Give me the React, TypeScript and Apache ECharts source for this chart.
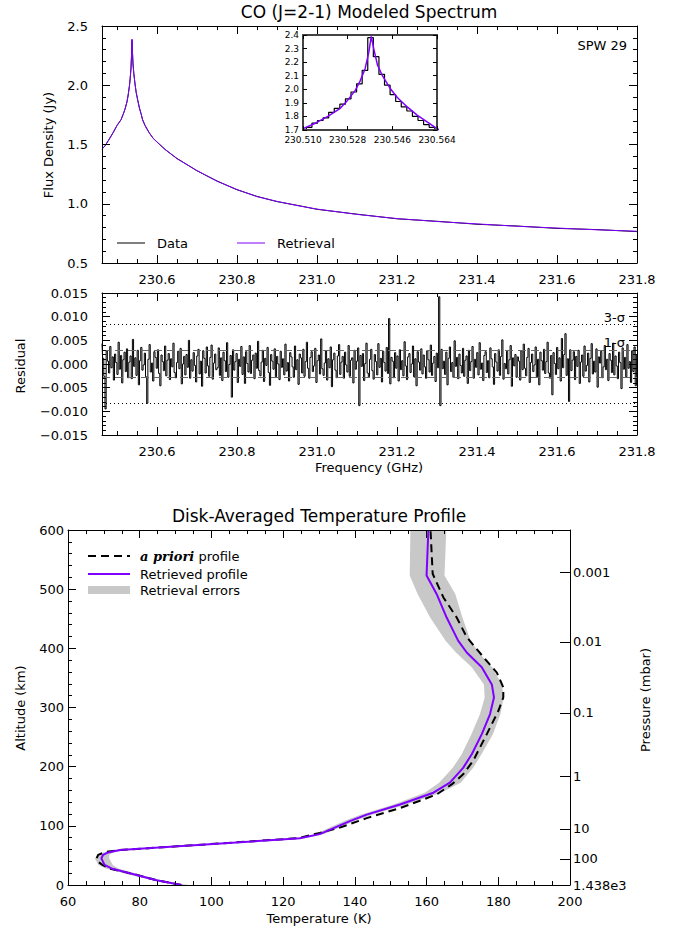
import React, { useEffect, useRef } from "react";
import * as echarts from "echarts";

const FONT = "DejaVu Sans";
const PURPLE = "#7f00ff";
const BAND_GRAY = "#c8c8c8";

// ---------- Spectrum (top panel) ----------
const spectrumFreqGHz = [
  230.4625, 230.47, 230.48, 230.49, 230.5, 230.51, 230.515, 230.52, 230.525, 230.528,
  230.531, 230.533, 230.535, 230.5365, 230.5375, 230.5385, 230.54, 230.542, 230.545, 230.548,
  230.552, 230.556, 230.56, 230.564, 230.57, 230.58, 230.59, 230.6, 230.62, 230.65,
  230.7, 230.75, 230.8, 230.85, 230.9, 230.95, 231.0, 231.1, 231.2, 231.3,
  231.4, 231.5, 231.6, 231.7, 231.8,
];
const modelFluxJy = [
  1.46, 1.49, 1.54, 1.6, 1.66, 1.71, 1.75, 1.8, 1.86, 1.92,
  1.99, 2.06, 2.15, 2.27, 2.39, 2.3, 2.18, 2.1, 2.01, 1.94,
  1.87, 1.81, 1.76, 1.71, 1.66, 1.6, 1.555, 1.52, 1.46, 1.38,
  1.28, 1.19, 1.12, 1.06, 1.02, 0.985, 0.955, 0.91, 0.875, 0.85,
  0.83, 0.81, 0.795, 0.78, 0.768,
];
const dataFluxJy = [
  1.462, 1.488, 1.543, 1.598, 1.661, 1.708, 1.752, 1.797, 1.862, 1.918,
  1.993, 2.058, 2.14, 2.27, 2.38, 2.29, 2.18, 2.1, 2.012, 1.938,
  1.872, 1.808, 1.762, 1.708, 1.662, 1.602, 1.553, 1.522, 1.458, 1.382,
  1.278, 1.192, 1.118, 1.062, 1.018, 0.987, 0.953, 0.912, 0.873, 0.852,
  0.827, 0.812, 0.792, 0.782, 0.765,
];
const spectrumTicksGHz = [230.6, 230.8, 231.0, 231.2, 231.4, 231.6, 231.8];
const spectrumMinorTicksGHz = [
  230.5, 230.55, 230.65, 230.7, 230.75, 230.85, 230.9, 230.95, 231.05, 231.1,
  231.15, 231.25, 231.3, 231.35, 231.45, 231.5, 231.55, 231.65, 231.7, 231.75,
];

// ---------- Inset (channel data near line centre) ----------
const insetChannelFreqGHz = [
  230.508, 230.5102, 230.5125, 230.5147, 230.517, 230.5192, 230.5215, 230.5237, 230.526, 230.5282,
  230.5305, 230.5327, 230.535, 230.5372, 230.5395, 230.5417, 230.544, 230.5462, 230.5485, 230.5507,
  230.553, 230.5552, 230.5575, 230.5597, 230.562, 230.5642, 230.5665,
];
const insetChannelFluxJy = [
  1.68, 1.7, 1.72, 1.75, 1.77, 1.79, 1.83, 1.86, 1.89, 1.93,
  1.98, 2.04, 2.14, 2.38, 2.24, 2.11, 2.03, 1.96, 1.91, 1.87,
  1.84, 1.8, 1.77, 1.74, 1.72, 1.69, 1.67,
];
const insetTicksGHz = [230.51, 230.528, 230.546, 230.564];

// ---------- Residuals (1e-3 Jy per channel) ----------
const residualStartGHz = 230.4625;
const residualChannelGHz = 0.0029788;
const residualMilliJy = [
  4.3, 1.2, -2.6, -9.5, 2.8, 0.6, -1.9, 3.7, -0.8, 1.5, -3.4, 2.1, 0.3, -2.2, 4.6, -1.1, 1.8, -4.0, 0.9, 2.5, -1.6, 3.2, -2.9, 0.4, 1.7,
  -3.1, 5.2, -0.5, 1.3, -2.4, 2.9, -4.4, 0.7, 3.5, -1.3, -0.2, 2.3, -2.7, -8.3, 1.0, 4.1, -1.7, 0.2, -3.6, 2.6, 1.4, -0.9, 3.0, -2.0, -4.6,
  1.9, 0.5, -1.4, 3.8, -2.5, 0.8, 2.2, -3.3, 1.1, -0.6, 4.4, -1.8, -2.9, 0.3, 2.7, -1.0, 3.3, -4.2, 0.0, 1.6, -2.3, 2.0, -0.7, 5.0, -3.0,
  0.9, -1.5, 2.4, -0.3, -3.8, 1.7, 3.1, -2.1, 0.6, -4.7, 2.8, 1.2, -1.9, 3.6, -0.4, -2.6, 1.4, 4.0, -3.2, 0.2, 2.1, -1.2, -0.8, 3.4, -2.4,
  1.3, -3.5, 2.5, 0.7, -1.6, 4.5, -2.8, -0.1, 1.8, -7.0, 3.0, -1.3, 0.5, 2.2, -3.9, 1.0, -0.5, 3.7, -2.2, 1.5, -4.1, 2.6, 0.1, -1.7, 3.9,
  -2.0, 0.8, 1.9, -3.1, 2.3, -0.9, 4.8, -1.4, -2.5, 0.4, 2.9, -3.7, 1.2, -0.3, 3.5, -1.8, -4.5, 2.0, 0.6, -1.1, 3.2, -2.7, 1.6, 0.0, -3.3,
  2.7, -0.7, 1.1, -2.3, 4.2, -1.5, 0.3, -3.6, 2.4, 1.5, -0.6, -2.8, 3.8, -1.2, 0.9, -4.3, 2.1, 1.3, -1.9, 3.1, -2.6, 0.5, 4.6, -0.9, -3.0,
  1.4, 2.6, -1.6, -0.4, 3.3, -3.9, 0.7, 1.9, -2.1, 5.3, -1.0, -2.4, 0.2, 2.8, -3.4, 1.1, -0.8, 3.6, -4.8, 0.9, 2.3, -1.3, -2.9, 1.7, 4.1,
  -2.2, 0.4, 1.6, -3.0, 2.5, -0.2, -1.7, 3.9, -2.6, 0.8, 1.3, -4.0, 2.9, -1.1, 0.6, 3.4, -8.8, 1.8, -0.5, 2.2, -3.5, 0.1, 4.4, -1.9, -2.7,
  1.0, 3.1, -1.4, -3.2, 2.0, 0.5, -2.3, 4.3, -0.7, 1.2, -3.8, 2.7, 0.3, -1.5, 3.5, -2.0, 9.6, -4.2, 1.4, 0.6, -2.9, 2.4, -0.9, 1.7, -3.6,
  3.0, -1.2, 0.7, -2.5, 4.7, -0.4, -3.3, 1.5, 2.2, -1.8, 0.0, 3.8, -2.7, 1.1, -4.6, 2.6, 0.4, -1.3, 3.2, -2.1, 1.9, -0.6, -3.0, 2.8, 0.9,
  -1.7, 4.0, -2.4, 0.2, 1.6, -3.7, 2.3, -0.8, 14.2, -8.8, 3.1, -1.0, 0.6, -2.2, 2.5, -4.4, 1.2, 3.6, -1.6, 0.3, -2.8, 4.9, -0.5, 1.4, -3.1,
  2.1, -0.3, -1.9, 3.3, -2.6, 0.8, 1.7, -4.1, 2.9, -1.4, 0.5, 3.7, -3.0, 1.0, -0.7, 2.4, -2.3, 4.5, -1.1, 0.2, -3.5, 1.8, 2.6, -1.8, 0.7,
  -2.9, 3.4, 1.1, -0.6, -4.3, 2.2, 0.4, -1.5, 3.0, -2.4, 1.6, 5.1, -3.2, 0.1, -1.0, 2.7, -2.1, 0.9, 3.9, -4.7, 1.3, -0.4, 2.0, -2.8, 1.5,
  0.6, -3.4, 2.8, -1.2, 4.2, -0.9, -2.5, 1.4, 3.3, -3.9, 0.3, 2.1, -1.6, -0.2, 3.6, -2.7, 1.0, -4.4, 2.5, 0.7, -1.3, 3.1, -2.0, 0.5, 4.6,
  -1.9, -3.0, 1.8, -6.5, 2.4, 0.1, -2.2, 3.5, -1.0, 1.3, -3.6, 5.4, -0.8, 2.0, 6.4, -2.4, 1.1, -7.9, 3.0, -1.4, 0.8, 2.6, -3.3, 1.6, -0.5,
  2.9, -4.1, 0.4, 1.9, -2.6, 3.8, -1.5, -0.3, 2.3, -3.8, 1.2, 4.3, -2.1, 0.6, -1.7, 3.2, -4.9, 1.5, 0.2, 2.7, -2.9, -0.6, 3.9, -1.2, 1.0,
  -3.5, 2.2, 0.8, -1.8, 4.4, -2.3, 1.7, -0.4, -3.1, 2.5, 0.3, -5.2, 3.4, -1.1, 1.4, -2.7, 4.1, -0.9, 0.5, -3.9, 2.8, -1.6, 3.6, -4.6, 1.9,
];
const sigma1Jy = 0.0028;
const sigma3Jy = 0.0083;

// ---------- Temperature profile (bottom panel) ----------
const retrievedAltKm = [0, 8, 17, 28, 34, 45, 51, 55, 59, 79, 86, 108, 119, 136, 156, 173, 198, 221, 255, 289, 317, 339, 368, 393, 413, 452, 492, 523, 600];
const retrievedTempK = [91.6, 84.7, 79.1, 72.1, 70.2, 69.3, 69.8, 71.2, 74.5, 124.7, 130.2, 138.6, 143.3, 152.6, 161.9, 166.5, 170.2, 172.6, 175.4, 177.7, 178.8, 178.2, 175.4, 171.2, 168.8, 165.6, 162.8, 160.0, 160.5];
const errorLowK = [90.8, 83.5, 77.5, 70.5, 68.5, 67.5, 68.3, 69.8, 73.0, 123.5, 129.0, 137.0, 141.8, 150.8, 159.5, 163.5, 167.3, 169.8, 172.5, 174.9, 176.2, 176.0, 172.6, 168.2, 165.3, 161.0, 157.5, 155.3, 155.5];
const errorHighK = [93.5, 86.0, 80.5, 74.0, 72.5, 71.5, 71.5, 72.6, 76.0, 126.0, 131.5, 140.0, 145.0, 154.4, 164.0, 169.5, 173.0, 175.3, 178.5, 180.6, 181.5, 181.0, 178.3, 174.5, 172.3, 170.0, 168.0, 165.0, 165.5];
const aprioriAltKm = [0, 8, 17, 28, 34, 40, 45, 51, 56, 59, 79, 88, 97, 113, 130, 153, 170, 187, 210, 255, 294, 317, 334, 359, 382, 419, 452, 486, 526, 600];
const aprioriTempK = [91.6, 84.7, 79.3, 71.5, 69.6, 68.2, 68.0, 68.4, 70.5, 74.5, 124.0, 130.2, 135.8, 143.3, 152.6, 162.8, 167.0, 170.2, 173.0, 176.8, 180.0, 181.4, 181.4, 179.6, 176.3, 171.2, 168.4, 164.7, 161.7, 161.1];
const pressureAltKm = [0, 44, 95, 183, 291, 411, 529];
const pressureLabels = ["1.438e3", "100", "10", "1", "0.1", "0.01", "0.001"];

// ---------- helpers ----------
function merge(base: any, extra: any) {
  const out: any = { ...base };
  for (const k of Object.keys(extra)) {
    const v = extra[k];
    if (v && typeof v === "object" && !Array.isArray(v) && base[k] && typeof base[k] === "object") {
      out[k] = { ...base[k], ...v };
    } else out[k] = v;
  }
  return out;
}

function axis(gridIndex: number, position: string, min: number, max: number, extra: any = {}) {
  const base: any = {
    type: "value",
    gridIndex,
    position,
    min,
    max,
    splitLine: { show: false },
    axisLine: { show: true, onZero: false, lineStyle: { color: "#000", width: 1 } },
    axisTick: { show: false },
    axisLabel: { show: false },
    minorTick: { show: false },
    minorSplitLine: { show: false },
    z: 5,
  };
  return merge(base, extra);
}

const tick = (len: number, values?: number[]) => {
  const t: any = { show: true, inside: true, length: len, lineStyle: { color: "#000", width: 1 } };
  if (values) t.customValues = values;
  return t;
};
const minor = (n: number, len = 4) => ({ show: true, splitNumber: n, length: len, lineStyle: { color: "#000", width: 1 } });
const label = (extra: any) => ({ show: true, color: "#000", fontFamily: FONT, fontSize: 13, ...extra });
const fmtMinus = (s: string) => s.replace("-", "\u2212");

function text(t: string, x: number, y: number, opts: any = {}) {
  return {
    type: "text",
    x,
    y,
    rotation: opts.rotation || 0,
    silent: true,
    z: 10,
    style: {
      text: t,
      fill: "#000",
      fontFamily: opts.family || FONT,
      fontSize: opts.size || 13,
      align: opts.align || "left",
      verticalAlign: "middle",
      rich: opts.rich,
    },
  };
}

function buildOption(): any {
  const residualData = residualMilliJy.map((r, i) => [residualStartGHz + i * residualChannelGHz, r / 1000]);

  const xAxis = [
    // 0-3 top spectrum
    axis(0, "bottom", 230.4625, 231.8, {
      axisTick: tick(8, spectrumTicksGHz),
      axisLabel: label({ customValues: spectrumTicksGHz, formatter: (v: number) => v.toFixed(1), margin: 10 }),
    }),
    axis(0, "bottom", 230.4625, 231.8, { axisLine: { show: false }, axisTick: tick(4, spectrumMinorTicksGHz) }),
    axis(0, "top", 230.4625, 231.8, { axisTick: tick(8, spectrumTicksGHz) }),
    axis(0, "top", 230.4625, 231.8, { axisLine: { show: false }, axisTick: tick(4, spectrumMinorTicksGHz) }),
    // 4-5 inset
    axis(1, "bottom", 230.51, 230.564, {
      axisLine: { lineStyle: { color: "#444", width: 2 } },
      axisTick: tick(4, insetTicksGHz),
      axisLabel: label({ customValues: insetTicksGHz, formatter: (v: number) => v.toFixed(3), fontSize: 9, margin: 5 }),
    }),
    axis(1, "top", 230.51, 230.564, { axisLine: { lineStyle: { color: "#444", width: 2 } }, axisTick: tick(4, insetTicksGHz) }),
    // 6-9 residual
    axis(2, "bottom", 230.4625, 231.8, {
      axisTick: tick(8, spectrumTicksGHz),
      axisLabel: label({ customValues: spectrumTicksGHz, formatter: (v: number) => v.toFixed(1), margin: 10 }),
    }),
    axis(2, "bottom", 230.4625, 231.8, { axisLine: { show: false }, axisTick: tick(4, spectrumMinorTicksGHz) }),
    axis(2, "top", 230.4625, 231.8, { axisTick: tick(8, spectrumTicksGHz) }),
    axis(2, "top", 230.4625, 231.8, { axisLine: { show: false }, axisTick: tick(4, spectrumMinorTicksGHz) }),
    // 10-11 profile
    axis(3, "bottom", 60, 200, {
      interval: 20,
      axisTick: tick(8),
      minorTick: minor(4),
      axisLabel: label({ margin: 10 }),
    }),
    axis(3, "top", 60, 200, { interval: 20, axisTick: tick(8), minorTick: minor(4) }),
  ];

  const yAxis = [
    // 0-1 top
    axis(0, "left", 0.5, 2.5, {
      interval: 0.5,
      axisTick: tick(8),
      minorTick: minor(5),
      axisLabel: label({ formatter: (v: number) => v.toFixed(1), margin: 14 }),
    }),
    axis(0, "right", 0.5, 2.5, { interval: 0.5, axisTick: tick(8), minorTick: minor(5) }),
    // 2-3 inset
    axis(1, "left", 1.7, 2.4, {
      interval: 0.1,
      axisLine: { lineStyle: { color: "#444", width: 2 } },
      axisTick: tick(4),
      axisLabel: label({ formatter: (v: number) => v.toFixed(1), fontSize: 9, margin: 4 }),
    }),
    axis(1, "right", 1.7, 2.4, { interval: 0.1, axisLine: { lineStyle: { color: "#444", width: 2 } }, axisTick: tick(4) }),
    // 4-5 residual
    axis(2, "left", -0.015, 0.015, {
      interval: 0.005,
      axisTick: tick(8),
      minorTick: minor(5),
      axisLabel: label({
        formatter: (v: number) => (Math.abs(v) < 1e-9 ? "0.000" : fmtMinus(v.toFixed(3))),
        margin: 14,
      }),
    }),
    axis(2, "right", -0.015, 0.015, { interval: 0.005, axisTick: tick(8), minorTick: minor(5) }),
    // 6-7 profile
    axis(3, "left", 0, 600, {
      interval: 100,
      axisTick: tick(8),
      minorTick: minor(5),
      axisLabel: label({ margin: 4 }),
    }),
    axis(3, "right", 0, 600, {
      axisTick: tick(10, pressureAltKm),
      axisLabel: label({
        customValues: pressureAltKm,
        margin: 3,
        formatter: (v: number) => {
          const i = pressureAltKm.findIndex((a) => Math.abs(a - v) < 1e-6);
          return i >= 0 ? pressureLabels[i] : "";
        },
      }),
    }),
  ];

  const series: any[] = [
    {
      type: "line",
      name: "Data",
      xAxisIndex: 0,
      yAxisIndex: 0,
      data: spectrumFreqGHz.map((f, i) => [f, dataFluxJy[i]]),
      showSymbol: false,
      lineStyle: { color: "#000", width: 1 },
      z: 2,
    },
    {
      type: "line",
      name: "Retrieval",
      xAxisIndex: 0,
      yAxisIndex: 0,
      data: spectrumFreqGHz.map((f, i) => [f, modelFluxJy[i]]),
      showSymbol: false,
      lineStyle: { color: PURPLE, width: 1 },
      z: 3,
    },
    {
      type: "line",
      xAxisIndex: 4,
      yAxisIndex: 2,
      data: insetChannelFreqGHz.map((f, i) => [f, insetChannelFluxJy[i]]),
      step: "middle",
      showSymbol: false,
      clip: true,
      lineStyle: { color: "#000", width: 1.2 },
      z: 3,
    },
    {
      type: "line",
      xAxisIndex: 4,
      yAxisIndex: 2,
      data: spectrumFreqGHz.map((f, i) => [f, modelFluxJy[i]]),
      showSymbol: false,
      clip: true,
      lineStyle: { color: PURPLE, width: 1.5 },
      z: 4,
    },
    {
      type: "line",
      xAxisIndex: 6,
      yAxisIndex: 4,
      data: residualData,
      step: "middle",
      showSymbol: false,
      lineStyle: { color: "#000", width: 1 },
      z: 3,
      markLine: {
        silent: true,
        precision: 6,
        symbol: ["none", "none"],
        label: { show: false },
        data: [
          { yAxis: sigma3Jy, lineStyle: { type: [1, 3], color: "#000", width: 1 } },
          { yAxis: -sigma3Jy, lineStyle: { type: [1, 3], color: "#000", width: 1 } },
          { yAxis: sigma1Jy, lineStyle: { type: [8, 5], color: "#666", width: 1 } },
          { yAxis: -sigma1Jy, lineStyle: { type: [8, 5], color: "#666", width: 1 } },
        ],
      },
    },
    {
      type: "custom",
      xAxisIndex: 10,
      yAxisIndex: 6,
      data: retrievedAltKm.map((a, i) => [errorLowK[i], errorHighK[i], a]),
      encode: { x: [0, 1], y: 2 },
      silent: true,
      clip: true,
      z: 1,
      renderItem: (params: any, api: any) => {
        if (params.dataIndex !== 0) return { type: "group", children: [] };
        const left = retrievedAltKm.map((a, i) => api.coord([errorLowK[i], a]));
        const right = retrievedAltKm.map((a, i) => api.coord([errorHighK[i], a])).reverse();
        return { type: "polygon", shape: { points: [...left, ...right] }, style: { fill: BAND_GRAY } };
      },
    },
    {
      type: "line",
      xAxisIndex: 10,
      yAxisIndex: 6,
      data: aprioriAltKm.map((a, i) => [aprioriTempK[i], a]),
      showSymbol: false,
      lineStyle: { color: "#000", width: 2, type: [8, 5] },
      z: 2,
    },
    {
      type: "line",
      xAxisIndex: 10,
      yAxisIndex: 6,
      data: retrievedAltKm.map((a, i) => [retrievedTempK[i], a]),
      showSymbol: false,
      lineStyle: { color: PURPLE, width: 2 },
      z: 3,
    },
  ];

  const graphic = [
    text("CO (J=2-1) Modeled Spectrum", 369, 12, { size: 17, align: "center" }),
    text("SPW 29", 627, 45, { align: "right" }),
    text("Flux Density (Jy)", 48, 145, { rotation: Math.PI / 2, align: "center" }),
    { type: "line", silent: true, shape: { x1: 117, y1: 243, x2: 145, y2: 243 }, style: { stroke: "#000", lineWidth: 1 } },
    text("Data", 157, 243),
    { type: "line", silent: true, shape: { x1: 237, y1: 243, x2: 265, y2: 243 }, style: { stroke: PURPLE, lineWidth: 1 } },
    text("Retrieval", 277, 243),
    text("Residual", 20, 366, { rotation: Math.PI / 2, align: "center" }),
    text("3-\u03c3", 625, 317, { align: "right" }),
    text("1-\u03c3", 625, 342, { align: "right" }),
    text("Frequency (GHz)", 369, 467, { align: "center" }),
    text("Disk-Averaged Temperature Profile", 319, 516, { size: 17, align: "center" }),
    { type: "line", silent: true, shape: { x1: 88, y1: 556, x2: 130, y2: 556 }, style: { stroke: "#000", lineWidth: 2, lineDash: [8, 5] } },
    text("{i|a priori} profile", 140, 556, {
      rich: { i: { fontFamily: "DejaVu Serif", fontStyle: "italic", fontWeight: "bold", fontSize: 13, fill: "#000" } },
    }),
    { type: "line", silent: true, shape: { x1: 88, y1: 574, x2: 130, y2: 574 }, style: { stroke: PURPLE, lineWidth: 2 } },
    text("Retrieved profile", 140, 574),
    { type: "line", silent: true, shape: { x1: 88, y1: 590, x2: 130, y2: 590 }, style: { stroke: BAND_GRAY, lineWidth: 8 } },
    text("Retrieval errors", 140, 590),
    text("Altitude (km)", 20, 708, { rotation: Math.PI / 2, align: "center" }),
    text("Temperature (K)", 319, 918, { align: "center" }),
    text("Pressure (mbar)", 645, 700, { rotation: Math.PI / 2, align: "center" }),
  ];

  return {
    animation: false,
    backgroundColor: "#fff",
    textStyle: { fontFamily: FONT },
    grid: [
      { left: 102, top: 26, width: 535, height: 237, outerBoundsMode: "none" },
      { left: 303, top: 35, width: 134, height: 95, outerBoundsMode: "none" },
      { left: 102, top: 293, width: 535, height: 142, outerBoundsMode: "none" },
      { left: 68, top: 530, width: 502, height: 355, outerBoundsMode: "none" },
    ],
    xAxis,
    yAxis,
    series,
    graphic: { elements: graphic },
  };
}

export default function App() {
  const ref = useRef<HTMLDivElement>(null);
  useEffect(() => {
    if (!ref.current) return;
    const chart = echarts.init(ref.current, null, { renderer: "svg" });
    chart.setOption(buildOption());
    return () => chart.dispose();
  }, []);
  return (
    <div
      ref={ref}
      style={{ position: "fixed", left: 0, top: 0, width: 689, height: 933, background: "#fff" }}
    />
  );
}
